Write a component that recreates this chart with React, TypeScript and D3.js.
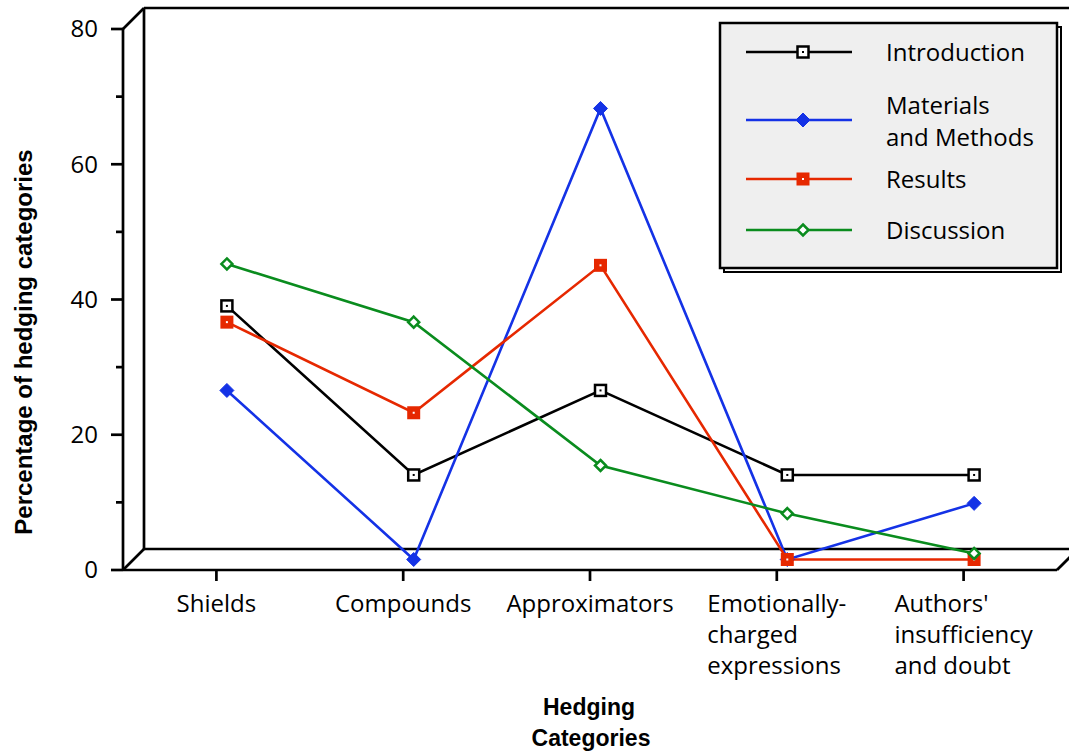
import React from "react";
import * as d3 from "d3";

const categories = ["Shields", "Compounds", "Approximators", "Emotionally-charged expressions", "Authors' insufficiency and doubt"];
const categoryLines = [["Shields"], ["Compounds"], ["Approximators"], ["Emotionally-", "charged", "expressions"], ["Authors'", "insufficiency", "and doubt"]];
const introduction = [37.5, 12.5, 25.0, 12.5, 12.5];
const materials = [25.0, 0.0, 66.7, 0.0, 8.3];
const results = [35.1, 21.7, 43.5, 0.0, 0.0];
const discussion = [43.7, 35.1, 13.9, 6.8, 0.9];
const seriesNames = ["Introduction", "Materials and Methods", "Results", "Discussion"];
const legendLines = [["Introduction"], ["Materials", "and Methods"], ["Results"], ["Discussion"]];
const yMajorTicks = [0, 20, 40, 60, 80];
const yMinorTicks = [10, 30, 50, 70];

const W = 1069, H = 756;
const X0 = 123, X1 = 1057, YB = 570, YT = 29;
const DEPTH = 21;
const FONT = "'Open Sans', sans-serif";
const BOLD = "'Liberation Sans', Arial, sans-serif";

let ctx: CanvasRenderingContext2D | null = null;
function measure(t: string, font: string) {
  if (!ctx) ctx = document.createElement("canvas").getContext("2d");
  if (!ctx) return t.length * 12;
  ctx.font = font;
  return ctx.measureText(t).width;
}

type Series = { name: string; values: number[]; color: string; marker: string };

function Marker({ kind, color, x, y }: { kind: string; color: string; x: number; y: number }) {
  if (kind === "openSquare")
    return (
      <g>
        <rect x={x - 5.5} y={y - 5.5} width={11} height={11} fill="#fff" stroke={color} strokeWidth={2.5} />
        <rect x={x - 1} y={y - 1} width={2} height={2} fill={color} />
      </g>
    );
  if (kind === "filledSquare")
    return (
      <g>
        <rect x={x - 6.5} y={y - 6.5} width={13} height={13} fill={color} />
        <rect x={x - 1} y={y - 1} width={2} height={2} fill="#fff" />
      </g>
    );
  if (kind === "filledDiamond")
    return <path d={`M${x},${y - 7}L${x + 7},${y}L${x},${y + 7}L${x - 7},${y}Z`} fill={color} stroke={color} strokeWidth={1} strokeLinejoin="round" />;
  return (
    <g>
      <path d={`M${x},${y - 5.5}L${x + 5.5},${y}L${x},${y + 5.5}L${x - 5.5},${y}Z`} fill="#fff" stroke={color} strokeWidth={2.5} />
    </g>
  );
}

export default function App() {
  const series: Series[] = [
    { name: seriesNames[0], values: introduction, color: "#000000", marker: "openSquare" },
    { name: seriesNames[1], values: materials, color: "#1432e6", marker: "filledDiamond" },
    { name: seriesNames[2], values: results, color: "#e62800", marker: "filledSquare" },
    { name: seriesNames[3], values: discussion, color: "#0a8c1e", marker: "openDiamond" },
  ];
  const x = d3.scaleBand<string>().domain(categories).range([X0, X1]);
  const y = d3.scaleLinear().domain([0, 80]).range([YB, YT]);
  const off = DEPTH / 2;
  const px = (c: string) => (x(c) as number) + x.bandwidth() / 2 + off;
  const py = (v: number) => y(v) - off;
  const line = d3
    .line<number>()
    .x((_, i) => px(categories[i]))
    .y((v) => py(v));

  const labelFont = `24px ${FONT}`;

  return (
    <svg width={W} height={H} style={{ position: "absolute", left: 0, top: 0 }}>
      <rect width={W} height={H} fill="#fff" />
      {/* 3D frame */}
      <g stroke="#000" strokeWidth={2.7} fill="none">
        <line x1={X0} y1={YT} x2={X0} y2={YB} />
        <line x1={X0} y1={YB} x2={X1} y2={YB} />
        <line x1={X0 + DEPTH} y1={YT - DEPTH} x2={X0 + DEPTH} y2={YB - DEPTH} />
        <line x1={X0 + DEPTH} y1={YT - DEPTH} x2={W + 5} y2={YT - DEPTH} />
        <line x1={X0 + DEPTH} y1={YB - DEPTH} x2={W + 5} y2={YB - DEPTH} />
        <line x1={X0} y1={YT} x2={X0 + DEPTH} y2={YT - DEPTH} />
        <line x1={X0} y1={YB} x2={X0 + DEPTH} y2={YB - DEPTH} />
        <line x1={X1} y1={YB} x2={X1 + DEPTH} y2={YB - DEPTH} />
        {yMajorTicks.map((t) => (
          <line key={"M" + t} x1={X0 - 12} x2={X0} y1={y(t)} y2={y(t)} />
        ))}
        {yMinorTicks.map((t) => (
          <line key={"m" + t} x1={X0 - 7} x2={X0} y1={y(t)} y2={y(t)} />
        ))}
        {categories.map((c) => (
          <line key={c} x1={(x(c) as number) + x.bandwidth() / 2} x2={(x(c) as number) + x.bandwidth() / 2} y1={YB} y2={YB + 11} />
        ))}
      </g>
      {yMajorTicks.map((t) => (
        <text key={t} x={X0 - 25} y={y(t)} dy="0.35em" textAnchor="end" fontFamily={FONT} fontSize={24} fill="#000">
          {t}
        </text>
      ))}
      {categories.map((c, i) => {
        const lines = categoryLines[i];
        const w = Math.max(...lines.map((l) => measure(l, labelFont)));
        const cx = (x(c) as number) + x.bandwidth() / 2;
        return (
          <text key={c} fontFamily={FONT} fontSize={24} fill="#000">
            {lines.map((l, j) => (
              <tspan key={j} x={cx - w / 2} y={612 + j * 31}>
                {l}
              </tspan>
            ))}
          </text>
        );
      })}
      <text transform="translate(32,342) rotate(-90)" textAnchor="middle" fontFamily={BOLD} fontWeight="bold" fontSize={24} fill="#000">
        Percentage of hedging categories
      </text>
      <text textAnchor="middle" fontFamily={BOLD} fontWeight="bold" fontSize={23} fill="#000">
        <tspan x={589} y={715}>Hedging</tspan>
        <tspan x={591} y={746}>Categories</tspan>
      </text>
      {/* series */}
      {series.map((s) => (
        <path key={s.name} d={line(s.values) || ""} fill="none" stroke={s.color} strokeWidth={2.6} />
      ))}
      {series.map((s) => (
        <g key={s.name + "m"}>
          {s.values.map((v, i) => (
            <Marker key={i} kind={s.marker} color={s.color} x={px(categories[i])} y={py(v)} />
          ))}
        </g>
      ))}
      {/* legend */}
      <g>
        <rect x={724} y={27} width={337} height={245} fill="none" stroke="#000" strokeWidth={2} />
        <rect x={720} y={23} width={337} height={245} fill="#efefef" stroke="#000" strokeWidth={2.5} />
        {series.map((s, i) => {
          const ly = [52, 120, 179, 230][i];
          const lines = legendLines[i];
          return (
            <g key={s.name + "L"}>
              <line x1={746} x2={852} y1={ly} y2={ly} stroke={s.color} strokeWidth={2.6} />
              <Marker kind={s.marker} color={s.color} x={803} y={ly} />
              <text fontFamily={FONT} fontSize={24} fill="#000">
                {lines.map((l, j) => (
                  <tspan key={j} x={886} y={ly + 9 - (lines.length - 1) * 15.5 + j * 32}>
                    {l}
                  </tspan>
                ))}
              </text>
            </g>
          );
        })}
      </g>
    </svg>
  );
}
